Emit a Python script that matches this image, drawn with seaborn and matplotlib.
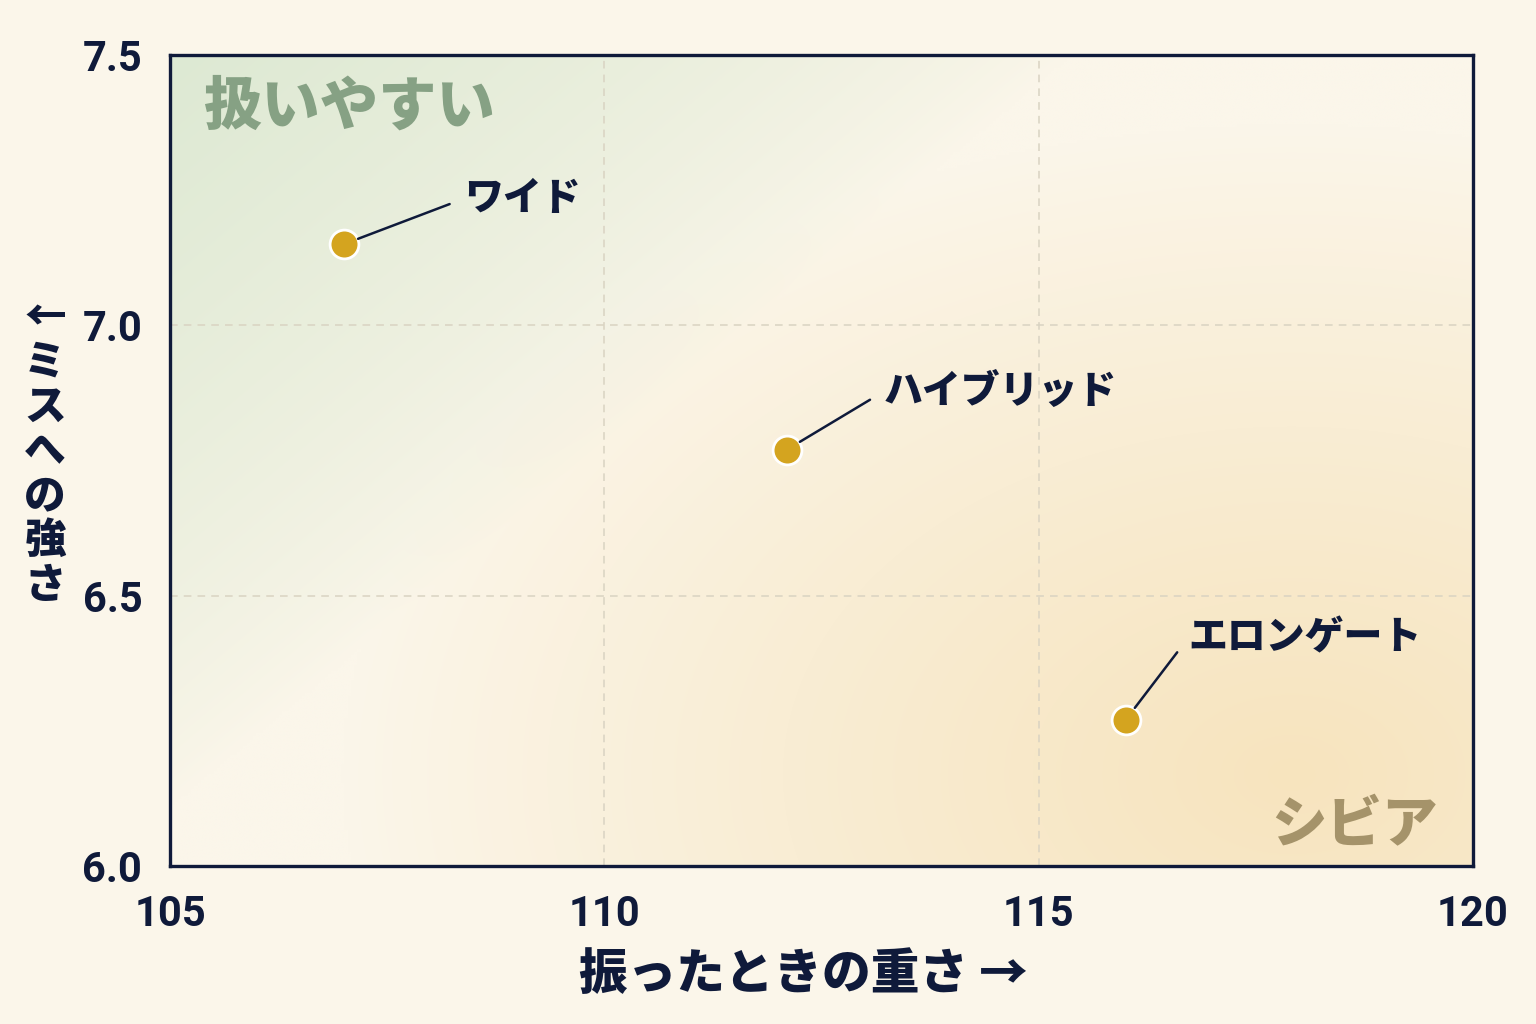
import numpy as np
import pandas as pd
import seaborn as sns
import matplotlib.pyplot as plt

# data
clubs = ["ワイド", "ハイブリッド", "エロンゲート"]
swing_weight = [107.0, 112.1, 116.0]
forgiveness = [7.15, 6.77, 6.27]
label_offsets = [(87, 33), (70, 42), (45, 59)]  # points, text relative to marker

x_ticks = [105, 110, 115, 120]
y_ticks = [6.0, 6.5, 7.0, 7.5]

navy = "#0f1a3a"
bg = "#fbf6ea"
gold = "#d4a41f"

sns.set_theme(style="white")
plt.rcParams["font.family"] = ["Noto Sans CJK JP", "DejaVu Sans"]
plt.rcParams["font.weight"] = "bold"

df = pd.DataFrame({"club": clubs, "weight": swing_weight, "forgive": forgiveness})

fig = plt.figure(figsize=(15.36, 10.24), dpi=100, facecolor=bg)
ax = fig.add_axes([0.1107, 0.1543, 0.8483, 0.792])

# soft background: green top-left, tan bottom-right
W, H = 1303, 811
xx, yy = np.meshgrid(np.linspace(0, W, 400), np.linspace(0, H, 260))
s_green = (xx + 1.2 * yy) / 900.0
s_tan = np.sqrt(((W - 180 - xx) / 950.0) ** 2 + ((H - 90 - yy) / 650.0) ** 2)
w_g = np.clip(1 - s_green, 0, 1) ** 0.75
w_t = np.clip(1 - s_tan, 0, 1) ** 0.9
tot = np.clip(w_g + w_t, 1, None)
w_g, w_t = w_g / tot, w_t / tot
base = np.array([251, 246, 234]) / 255
green = np.array([221, 233, 211]) / 255
tan = np.array([247, 228, 190]) / 255
img = base[None, None, :] * (1 - w_g - w_t)[..., None] + green * w_g[..., None] + tan * w_t[..., None]
ax.imshow(img, extent=(0, 1, 0, 1), transform=ax.transAxes, aspect="auto",
          origin="upper", interpolation="bilinear", zorder=0)

ax.grid(True, color="#d9d3c2", linestyle=(0, (5, 4)), linewidth=1.1, zorder=1)

sns.scatterplot(data=df, x="weight", y="forgive", s=430, color=gold,
                edgecolor="white", linewidth=2, ax=ax, zorder=5)

for name, xv, yv, off in zip(clubs, swing_weight, forgiveness, label_offsets):
    ax.annotate(name, xy=(xv, yv), xytext=off, textcoords="offset points",
                ha="left", va="center", fontsize=28, fontweight="heavy", color=navy,
                zorder=6,
                arrowprops=dict(arrowstyle="-", color=navy, lw=1.8,
                                shrinkA=9, shrinkB=11, relpos=(0, 0.5)))

ax.text(0.025, 0.936, "扱いやすい", transform=ax.transAxes, ha="left", va="center",
        fontsize=42, fontweight="heavy", color="#86a184", zorder=4)
ax.text(0.973, 0.05, "シビア", transform=ax.transAxes, ha="right", va="center",
        fontsize=40, fontweight="heavy", color="#a5936a", zorder=4)

ax.set_xlim(105, 120)
ax.set_ylim(6.0, 7.5)
ax.set_xticks(x_ticks)
ax.set_yticks(y_ticks)
ax.set_xticklabels([str(t) for t in x_ticks])
ax.set_yticklabels([f"{t:.1f}" for t in y_ticks])
ax.tick_params(axis="both", direction="in", length=10, width=1.5, color=navy,
               labelsize=30, labelcolor=navy)
ax.tick_params(axis="x", pad=20)
ax.tick_params(axis="y", pad=20)
for t in ax.get_xticklabels() + ax.get_yticklabels():
    t.set_fontweight("bold")
    t.set_fontfamily("Roboto")

for sp in ax.spines.values():
    sp.set_color(navy)
    sp.set_linewidth(2.4)
    sp.set_zorder(7)

ax.set_xlabel("振ったときの重さ →", fontsize=35, fontweight="heavy", color=navy, va="center")
ax.xaxis.set_label_coords(0.486, -0.134)
ax.set_ylabel("")
fig.text(0.0293, 0.5586, "←\nミ\nス\nへ\nの\n強\nさ", fontsize=30, fontweight="heavy",
         color=navy, rotation=0, ha="center", va="center", linespacing=1.08)

plt.savefig("out.png", dpi=100, facecolor=bg)
